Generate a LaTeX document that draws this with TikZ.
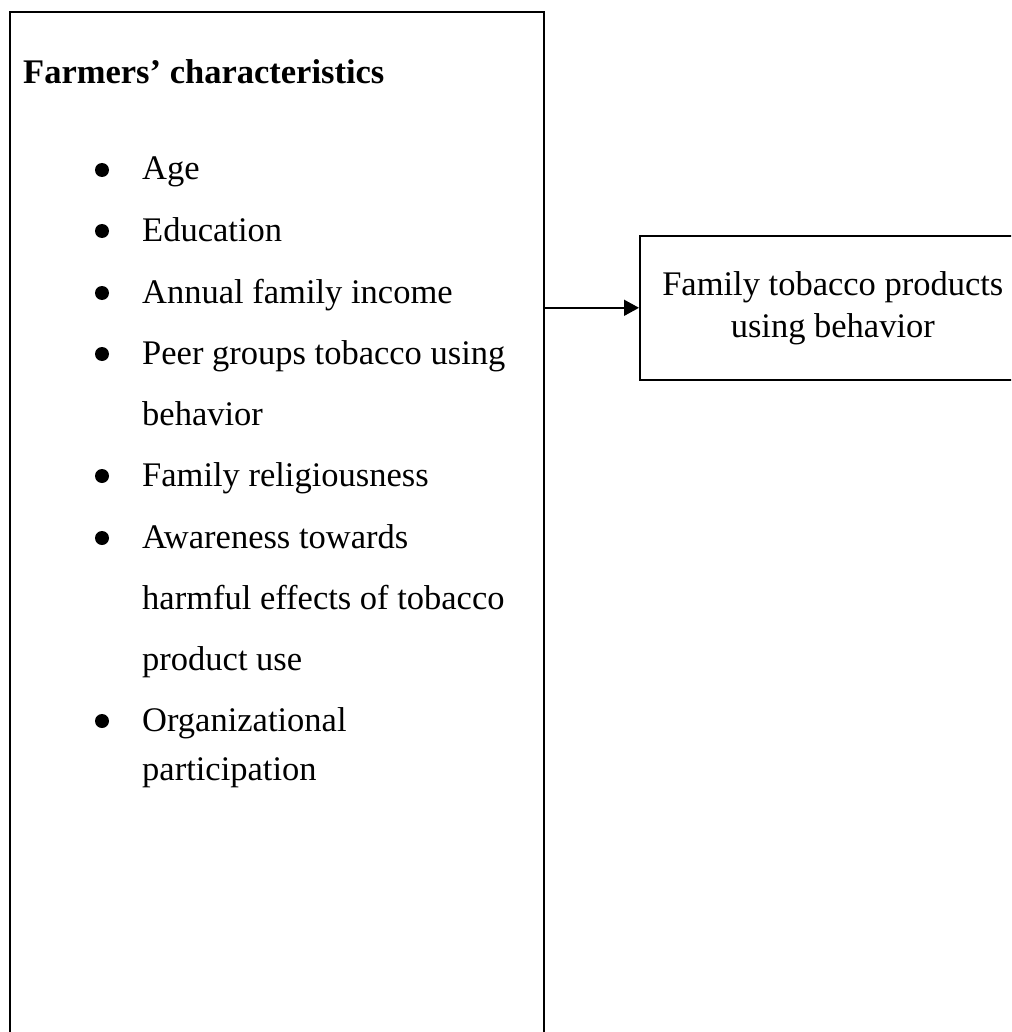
\documentclass[tikz,border=0pt]{standalone}
\usepackage{fontspec}
\setmainfont{Liberation Serif}
\usetikzlibrary{arrows.meta,calc,positioning}
\newcommand{\bigtext}{\fontsize{34.5}{42}\selectfont}
\tikzset{>={Triangle[length=15pt,width=16pt]}}
\tikzset{
  box/.style={draw, line width=1.6pt, inner sep=0pt},
  itemtext/.style={anchor=base west, inner sep=0pt, font=\bigtext},
  dot/.style={circle, fill, inner sep=0pt, minimum size=14pt}
}

\begin{document}
\begin{tikzpicture}[x=1pt,y=-1pt]
  \useasboundingbox (0,0) rectangle (1011,1032);
  \clip (0,0) rectangle (1011,1032);
  % the two boxes, both run off the page
  \node[box, anchor=north west, minimum width=534pt, minimum height=1100pt] (farmers) at (9,11) {};
  \node[box, anchor=north west, minimum width=386pt, minimum height=144pt,
        align=center, font=\bigtext] (usage) at (639,235) {Family tobacco products\\using behavior};
  % heading
  \node[itemtext, font=\bfseries\bigtext] (title) at (23,84) {Farmers’ characteristics};
  % bullet lines
  \foreach \y/\txt/\name in {180/Age/age, 241/Education/edu, 303/Annual family income/income,
      364/Peer groups tobacco using/peer, 486/Family religiousness/relig,
      548/Awareness towards/aware, 731/Organizational/org}
  {
    \node[dot] (dot-\name) at (102,\y-10) {};
    \node[itemtext] (\name) at (142,\y) {\txt};
  }
  % second lines of the long items
  \foreach \y/\txt/\name in {425/behavior/peer-b, 609/harmful effects of tobacco/aware-b,
      670/product use/aware-c, 780/participation/org-b}
    \node[itemtext] (\name) at (142,\y) {\txt};
  % link
  \draw[->, line width=1.6pt] (farmers.east |- usage.west) -- (usage.west);
\end{tikzpicture}
\end{document}
